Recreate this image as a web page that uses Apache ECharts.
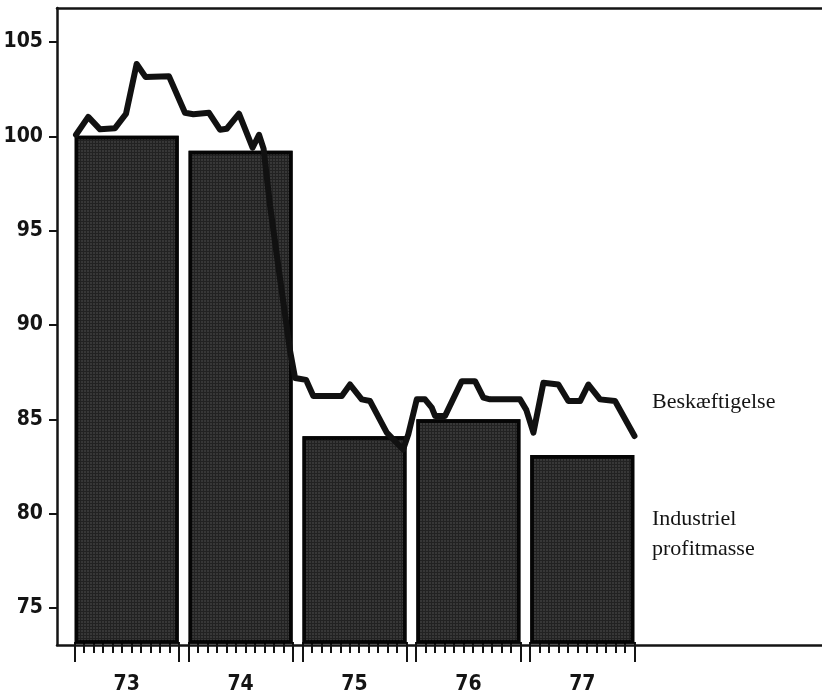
<!DOCTYPE html>
<html>
<head>
<meta charset="utf-8">
<script src="https://cdn.jsdelivr.net/npm/echarts@6/dist/echarts.min.js"></script>
<style>
html,body{margin:0;padding:0;background:#fff;}
#chart{width:822px;height:695px;}
</style>
</head>
<body>
<div id="chart"></div>
<script>
// Year categories (month index 0 = Jan 73, 59 = Dec 77)
const years = ['73', '74', '75', '76', '77'];
// Industriel profitmasse (bars), one value per year
const profitmasse = [100.0, 99.2, 84.0, 84.9, 83.0];
// Beskæftigelse (line): month positions and index values
const empMonth = [0.16, 1.45, 2.69, 4.27, 5.43, 6.55, 7.48, 9.96, 11.64, 12.52,
  14.17, 15.33, 16.04, 17.33, 18.76, 19.44, 19.92, 20.6, 21.65, 22.71,
  23.24, 24.39, 25.16, 28.16, 29.03, 30.26, 31.14, 32.9, 34.62, 35.17,
  36.06, 36.93, 37.64, 37.99, 39.04, 40.8, 42.2, 43.08, 43.78, 46.94,
  47.6, 48.35, 49.4, 50.98, 52.03, 53.27, 54.14, 55.37, 56.95, 59.0];
const empValue = [100.05, 101.0, 100.34, 100.4, 101.17, 103.82, 103.13, 103.16, 101.22, 101.14,
  101.22, 100.32, 100.37, 101.17, 99.36, 100.05, 99.31, 96.29, 92.41, 88.54,
  87.1, 87.0, 86.14, 86.14, 86.75, 85.96, 85.87, 84.19, 83.29, 84.1,
  85.96, 85.96, 85.52, 85.08, 85.08, 86.93, 86.93, 86.05, 85.96, 85.96,
  85.4, 84.19, 86.84, 86.75, 85.87, 85.87, 86.75, 85.96, 85.87, 84.01];
// Tick labels
const yTicks = [75, 80, 85, 90, 95, 100, 105];
const yMin = 73.04, yMax = 106.8;

const monthTicks = [];
for (let i = 0; i < years.length; i++) { monthTicks.push(i * 12, i * 12 + 11); }
const yearCenters = years.map((y, i) => i * 12 + 5.5);

const chart = echarts.init(document.getElementById('chart'));
const ink = '#141414';
const numFont = '"DejaVu Sans Condensed", "Liberation Sans Narrow", "Liberation Sans", Arial, sans-serif';
const serif = '22px "Liberation Serif", "Times New Roman", serif';

chart.setOption({
  backgroundColor: '#fff',
  animation: false,
  grid: [
    { left: 57, right: 0, top: 8, bottom: 50 },
    { left: 74.5, width: 560, top: 8, bottom: 50 }
  ],
  xAxis: [
    { gridIndex: 0, type: 'value', min: 0, max: 1, position: 'bottom',
      axisLine: { show: true, lineStyle: { color: ink, width: 2.5 } },
      axisTick: { show: false }, axisLabel: { show: false }, splitLine: { show: false } },
    { gridIndex: 0, type: 'value', min: 0, max: 1, position: 'top',
      axisLine: { show: true, lineStyle: { color: ink, width: 2.5 } },
      axisTick: { show: false }, axisLabel: { show: false }, splitLine: { show: false } },
    { gridIndex: 1, type: 'value', min: 0, max: 59, interval: 1, position: 'bottom',
      axisLine: { show: false },
      axisTick: { show: true, length: 11, lineStyle: { color: ink, width: 2 } },
      axisLabel: { show: false }, splitLine: { show: false } },
    { gridIndex: 1, type: 'value', min: 0, max: 59, position: 'bottom',
      axisLine: { show: false },
      axisTick: { show: true, length: 20, customValues: monthTicks, lineStyle: { color: ink, width: 2 } },
      axisLabel: { show: true, customValues: yearCenters, margin: 32,
        formatter: v => years[Math.round((v - 5.5) / 12)],
        color: ink, fontSize: 21, fontWeight: 'bold', fontFamily: numFont },
      splitLine: { show: false } }
  ],
  yAxis: [
    { gridIndex: 0, type: 'value', min: yMin, max: yMax,
      axisLine: { show: true, lineStyle: { color: ink, width: 2.5 } },
      axisTick: { show: true, length: 8, customValues: yTicks, lineStyle: { color: ink, width: 2 } },
      axisLabel: { show: true, customValues: yTicks, margin: 14,
        color: ink, fontSize: 21, fontWeight: 'bold', fontFamily: numFont },
      splitLine: { show: false } },
    { gridIndex: 1, type: 'value', min: yMin, max: yMax, show: false, splitLine: { show: false } }
  ],
  series: [
    {
      name: 'Industriel profitmasse', type: 'bar', xAxisIndex: 3, yAxisIndex: 1,
      data: years.map((y, i) => [yearCenters[i], profitmasse[i]]),
      barWidth: 104,
      itemStyle: {
        color: '#222', borderColor: '#050505', borderWidth: 3.5,
        decal: { symbol: 'rect', symbolSize: 0.5, color: 'rgba(210,210,210,0.5)',
          dashArrayX: [2, 1], dashArrayY: [2, 1], rotation: 0 }
      },
      z: 2
    },
    {
      name: 'Beskæftigelse', type: 'line', xAxisIndex: 3, yAxisIndex: 1,
      data: empMonth.map((m, i) => [m, empValue[i]]),
      symbol: 'none', smooth: false,
      lineStyle: { color: '#111', width: 6, join: 'round', cap: 'round' },
      z: 5
    }
  ],
  graphic: [
    { type: 'text', left: 652, top: 391,
      style: { text: 'Beskæftigelse', font: serif, fill: ink } },
    { type: 'text', left: 652, top: 504,
      style: { text: 'Industriel\nprofitmasse', font: serif, lineHeight: 30, fill: ink } }
  ]
});
</script>
</body>
</html>
